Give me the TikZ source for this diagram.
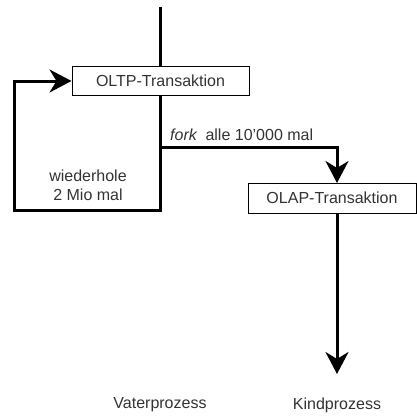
\documentclass[tikz,border=0pt]{standalone}
\usepackage{fontspec}
\setmainfont{Liberation Sans}
\usetikzlibrary{arrows.meta}
\begin{document}
\begin{tikzpicture}[x=1pt,y=-1pt,
  txt/.style={font=\fontsize{16}{19}\selectfont, text=black!80, inner sep=0pt},
  boxnode/.style={draw, line width=1pt, fill=white, inner sep=0pt, font=\fontsize{16}{19}\selectfont, text=black!80},
  flow/.style={line width=3pt},
  arr/.style={flow, -{Stealth[length=22pt,width=23pt,inset=7pt]}}]
\useasboundingbox (0,0) rectangle (417,415);
\node[boxnode, minimum width=177pt, minimum height=29pt] (oltp) at (160.5,80.5) {OLTP-Transaktion};
\node[boxnode, minimum width=168pt, minimum height=30pt] (olap) at (332,198) {OLAP-Transaktion};
\coordinate (start) at (160,7);
\coordinate (split) at (160,147);
\coordinate (down) at (160,210);
\coordinate (left) at (14,210);
\coordinate (lefttop) at (14,81);
\coordinate (forkr) at (337,147);
\coordinate (olaptop) at (337,183);
\coordinate (olapbot) at (337,213);
\coordinate (endk) at (337,374);
\draw[flow] (start) -- (oltp.north -| start);
\draw[arr] (oltp.south -| start) -- (down) -- (left) -- (lefttop) -- (oltp.west |- lefttop);
\draw[arr] (split) -- (forkr) -- (olaptop);
\draw[arr] (olapbot) -- (endk);
\node[txt, anchor=base west] (forklbl) at (170,140) {\textit{fork}\enspace alle 10'000 mal};
\node[txt, align=center] (wied) at (88,185) {wiederhole\\2 Mio mal};
\node[txt] (vater) at (160,405) {Vaterprozess};
\node[txt] (kind) at (337,405) {Kindprozess};
\end{tikzpicture}
\end{document}
